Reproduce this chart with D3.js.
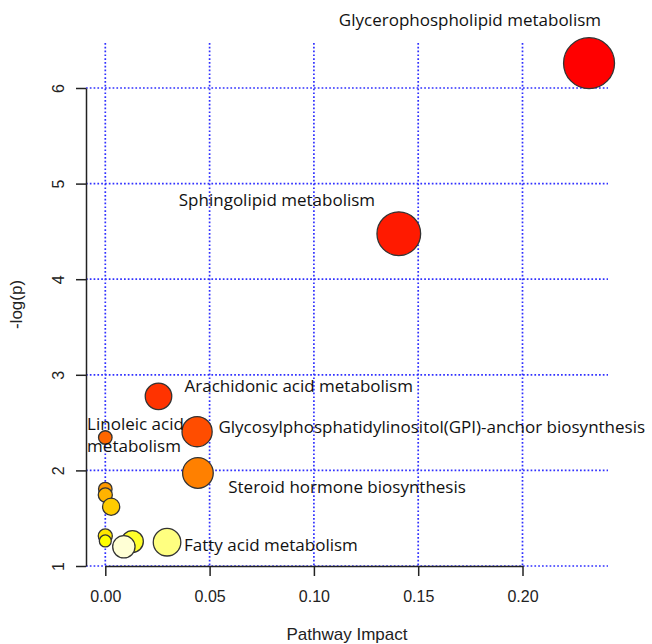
<!DOCTYPE html>
<html>
<head>
<meta charset="utf-8">
<script src="https://cdn.jsdelivr.net/npm/d3@7"></script>
<style>
  body { margin: 0; background: #fff; }
  .axis text { font-family: "Liberation Sans", Arial, sans-serif; font-size: 16px; fill: #222; }
  .lbl { font-family: "Open Sans", Lato, sans-serif; font-size: 17px; fill: #111; }
</style>
</head>
<body>
<div id="chart"></div>
<script>
const width = 652;
const height = 644;

// pathways, ordered as plotted (by p value)
const pathways = [
  "Glycerophospholipid metabolism",
  "Sphingolipid metabolism",
  "Arachidonic acid metabolism",
  "Glycosylphosphatidylinositol(GPI)-anchor biosynthesis",
  "Linoleic acid metabolism",
  "Steroid hormone biosynthesis",
  "",
  "",
  "",
  "",
  "",
  "",
  "Fatty acid metabolism",
  ""
];
const impact = [0.2319, 0.1407, 0.0255, 0.0440, 0.0, 0.0444, 0.0, 0.0, 0.0028, 0.0, 0.0, 0.0130, 0.0296, 0.0089];
const logP = [6.26, 4.476, 2.775, 2.405, 2.344, 1.973, 1.805, 1.743, 1.62, 1.314, 1.262, 1.256, 1.249, 1.201];
// relative bubble weight
const weight = [0.98, 0.84, 0.51, 0.58, 0.26, 0.59, 0.26, 0.27, 0.33, 0.27, 0.23, 0.42, 0.53, 0.43];

const xTicks = [0, 0.05, 0.1, 0.15, 0.2];
const yTicks = [1, 2, 3, 4, 5, 6];

const data = pathways.map((name, i) => ({
  name: name,
  impact: impact[i],
  logP: logP[i],
  weight: weight[i],
}));

//-------scales-------//
const x = d3.scaleLinear().domain([0, 0.2]).range([105.3, 522.5]);
const y = d3.scaleLinear().domain([1, 6]).range([566, 88]);
const r = d3.scaleLinear().domain([0, 1]).range([0, 26]);

// plot region edges
const plotLeft = 86, plotRight = 608, plotTop = 43, plotBottom = 566;

// heat.colors style palette, ranked by -log(p)
function heatColors(n) {
  const j = Math.floor(n / 4);
  const i = n - j;
  const out = [];
  for (let k = 0; k < i; k++) {
    out.push(d3.hsl((60 * k) / (i - 1), 1, 0.5).formatHex());
  }
  for (let k = 0; k < j; k++) {
    const s = j === 1 ? 0.5 : (1 - 1 / (2 * j)) - k * ((1 - 1 / j) / (j - 1));
    const c = d3.rgb(255, 255, Math.round(255 * (1 - s)));
    out.push(c.formatHex());
  }
  return out;
}
const palette = heatColors(data.length);
const rank = data.map((d) => d.logP).slice().sort((a, b) => b - a);
const color = (d) => palette[rank.indexOf(d.logP)];

const svg = d3
  .select("#chart")
  .append("svg")
  .attr("width", width)
  .attr("height", height);

//-------grid-------//
const grid = svg.append("g").attr("stroke", "#3030ff").attr("stroke-width", 1.7).attr("stroke-dasharray", "1.7,2.1");
grid
  .selectAll("line.h")
  .data(yTicks)
  .join("line")
  .attr("class", "h")
  .attr("x1", plotLeft)
  .attr("x2", plotRight)
  .attr("y1", (d) => y(d))
  .attr("y2", (d) => y(d));
grid
  .selectAll("line.v")
  .data(xTicks)
  .join("line")
  .attr("class", "v")
  .attr("x1", (d) => x(d))
  .attr("x2", (d) => x(d))
  .attr("y1", plotTop)
  .attr("y2", plotBottom);

//-------axes-------//
const xAxis = svg
  .append("g")
  .attr("class", "axis")
  .attr("transform", `translate(0,${plotBottom})`)
  .call(
    d3.axisBottom(x).tickValues(xTicks).tickFormat(d3.format(".2f")).tickSize(10).tickSizeOuter(0).tickPadding(15)
  );
xAxis.select(".domain").attr("stroke", "#222").attr("stroke-width", 1.5);
xAxis.selectAll(".tick line").attr("stroke", "#222").attr("stroke-width", 1.5);

const yAxis = svg
  .append("g")
  .attr("class", "axis")
  .attr("transform", `translate(${plotLeft},0)`)
  .call(d3.axisLeft(y).tickValues(yTicks).tickFormat(d3.format("d")).tickSize(10).tickSizeOuter(0));
yAxis.select(".domain").attr("stroke", "#222").attr("stroke-width", 1.5);
yAxis.selectAll(".tick line").attr("stroke", "#222").attr("stroke-width", 1.5);
yAxis
  .selectAll(".tick text")
  .attr("x", 0)
  .attr("y", 0)
  .attr("dy", "0.35em")
  .attr("text-anchor", "middle")
  .attr("transform", "translate(-28,0) rotate(-90)");

svg
  .append("text")
  .attr("x", (plotLeft + plotRight) / 2)
  .attr("y", 640)
  .attr("text-anchor", "middle")
  .style("font-family", "Liberation Sans, Arial, sans-serif")
  .style("font-size", "17px")
  .attr("fill", "#222")
  .text("Pathway Impact");

svg
  .append("text")
  .attr("transform", `translate(22,${(plotTop + plotBottom) / 2}) rotate(-90)`)
  .attr("text-anchor", "middle")
  .style("font-family", "Liberation Sans, Arial, sans-serif")
  .style("font-size", "17px")
  .attr("fill", "#222")
  .text("-log(p)");

//-------bubbles-------//
svg
  .append("g")
  .selectAll("circle")
  .data(data)
  .join("circle")
  .attr("cx", (d) => x(d.impact))
  .attr("cy", (d) => y(d.logP))
  .attr("r", (d) => r(d.weight))
  .attr("fill", (d) => color(d))
  .attr("stroke", "#333")
  .attr("stroke-width", 1.3);

//-------labels-------//
// offsets from bubble centre
const labelPlace = {
  "Glycerophospholipid metabolism": { dx: 12, dy: -37.5, anchor: "end" },
  "Sphingolipid metabolism": { dx: -220, dy: -28, anchor: "start" },
  "Arachidonic acid metabolism": { dx: 26, dy: -4, anchor: "start" },
  "Glycosylphosphatidylinositol(GPI)-anchor biosynthesis": { dx: 21.3, dy: 1.6, anchor: "start" },
  "Linoleic acid metabolism": { dx: -18.2, dy: -7.5, anchor: "start", lines: ["Linoleic acid", "metabolism"] },
  "Steroid hormone biosynthesis": { dx: 30.3, dy: 19.7, anchor: "start" },
  "Fatty acid metabolism": { dx: 17, dy: 8.8, anchor: "start" },
};

const labels = svg
  .append("g")
  .selectAll("text")
  .data(data.filter((d) => d.name))
  .join("text")
  .attr("class", "lbl")
  .attr("text-anchor", (d) => labelPlace[d.name].anchor)
  .attr("x", (d) => x(d.impact) + labelPlace[d.name].dx)
  .attr("y", (d) => y(d.logP) + labelPlace[d.name].dy);

labels.each(function (d) {
  const p = labelPlace[d.name];
  const t = d3.select(this);
  if (p.lines) {
    p.lines.forEach((line, i) => {
      t.append("tspan")
        .attr("x", x(d.impact) + p.dx)
        .attr("dy", i === 0 ? 0 : 22.3)
        .text(line);
    });
  } else {
    t.text(d.name);
  }
});
</script>
</body>
</html>
